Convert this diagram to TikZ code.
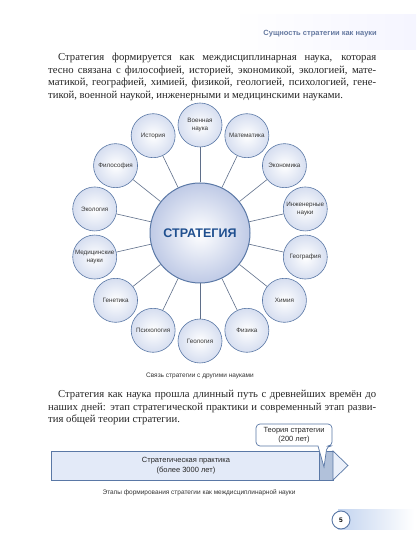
\documentclass[tikz,border=0pt]{standalone}
\usepackage{fontspec}
\setmainfont{Liberation Serif}
\newfontfamily\labelfont{Liberation Sans}
\usetikzlibrary{calc}
\definecolor{rimblue}{HTML}{5A78A6}
\definecolor{spokegray}{HTML}{5F6F8A}
\definecolor{scifill}{HTML}{D6DEF0}
\definecolor{bigfill}{HTML}{BFCAE6}
\definecolor{titleblue}{HTML}{1F4F8F}
\definecolor{headblue}{HTML}{6478A0}
\definecolor{barfill}{HTML}{E3EAF8}
\definecolor{darkseg}{HTML}{B1C1DA}
\definecolor{bandblue}{HTML}{C3D4EF}
\def\bodysize{\fontsize{10.7}{12.5}\selectfont}
\tikzset{
	science/.style={circle, draw=rimblue, line width=0.6pt, inner color=white, outer color=scifill,
		minimum size=44pt, inner sep=0pt, align=center, text=black!80,
		font=\labelfont\fontsize{6.3}{7.4}\selectfont},
	strategy/.style={circle, draw=rimblue, line width=1pt, inner color=white, outer color=bigfill,
		minimum size=100pt, inner sep=0pt, text=titleblue, font=\labelfont\bfseries\fontsize{12.5}{14}\selectfont},
	spoke/.style={draw=spokegray, line width=0.6pt},
	bodytext/.style={text width=328pt, inner sep=0pt, align=justify, text=black!85, font=\bodysize},
	caption/.style={inner sep=0pt, text=black!80, font=\labelfont\fontsize{6.5}{7.5}\selectfont},
	stagetext/.style={inner sep=0pt, align=center, text=black!85, font=\labelfont\fontsize{7.5}{9.5}\selectfont},
	stage/.style={draw=rimblue, line width=0.7pt}
}

\begin{document}
\begin{tikzpicture}[x=1pt,y=1pt]
		%%%%% START %%%%%
		\useasboundingbox (0,0) rectangle (416,556);
		\fill[white] (0,0) rectangle (416,556);
		
		% header
		\shade[left color=white, right color=blue!4] (230,506) rectangle (416,541);
		\node[anchor=base east, inner sep=0pt, text=headblue, font=\labelfont\bfseries\fontsize{7.5}{9}\selectfont] (head) at (377,520) {Сущность стратегии как науки};
		
		\node[bodytext, anchor=north west] (intro) at (48,503) {\hspace*{10pt}Стратегия формируется как междисциплинарная наука, которая\linebreak
			тесно связана с философией, историей, экономикой, экологией, мате-\linebreak
			матикой, географией, химией, физикой, геологией, психологией, гене-\linebreak
			тикой, военной наукой, инженерными и медицинскими науками.};
		
		% sciences round the centre
		\coordinate (c) at (200,323);
		\node[strategy] (strat) at (c) {СТРАТЕГИЯ};
		
		\node[science] (mil) at ($(c)+(90:108)$) {Военная\\наука};
		\node[science] (math) at ($(c)+(64.29:108)$) {Математика};
		\node[science] (econ) at ($(c)+(38.57:108)$) {Экономика};
		\node[science] (eng) at ($(c)+(12.86:108)$) {Инженерные\\науки};
		\node[science] (geo) at ($(c)+(-12.86:108)$) {География};
		\node[science] (chem) at ($(c)+(-38.57:108)$) {Химия};
		\node[science] (phys) at ($(c)+(-64.29:108)$) {Физика};
		\node[science] (geol) at ($(c)+(-90:108)$) {Геология};
		\node[science] (psy) at ($(c)+(-115.71:108)$) {Психология};
		\node[science] (gen) at ($(c)+(-141.43:108)$) {Генетика};
		\node[science] (med) at ($(c)+(-167.14:108)$) {Медицинские\\науки};
		\node[science] (ecol) at ($(c)+(167.14:108)$) {Экология};
		\node[science] (phil) at ($(c)+(141.43:108)$) {Философия};
		\node[science] (hist) at ($(c)+(115.71:108)$) {История};
		
		\draw[spoke] (strat) -- (mil);
		\draw[spoke] (strat) -- (math);
		\draw[spoke] (strat) -- (econ);
		\draw[spoke] (strat) -- (eng);
		\draw[spoke] (strat) -- (geo);
		\draw[spoke] (strat) -- (chem);
		\draw[spoke] (strat) -- (phys);
		\draw[spoke] (strat) -- (geol);
		\draw[spoke] (strat) -- (psy);
		\draw[spoke] (strat) -- (gen);
		\draw[spoke] (strat) -- (med);
		\draw[spoke] (strat) -- (ecol);
		\draw[spoke] (strat) -- (phil);
		\draw[spoke] (strat) -- (hist);
		
		\node[caption] (cap1) at (200,180) {Связь стратегии с другими науками};
		
		\node[bodytext, anchor=north west] (path) at (48,166) {\hspace*{10pt}Стратегия как наука прошла длинный путь с древнейших времён до\linebreak
			наших дней: этап стратегической практики и современный этап разви-\linebreak
			тия общей теории стратегии.};
		
		% stages bar
		\draw[stage, fill=barfill] (51,76) rectangle (319,105);
		\draw[stage, fill=darkseg] (319,76) rectangle (333,105);
		\draw[stage, fill=barfill!70!white] (333,105) -- (348,90.5) -- (333,76) -- cycle;
		\node[stagetext] (practice) at (186,90.5) {Стратегическая практика\\(более 3000 лет)};
		
		\draw[stage, fill=white, rounded corners=4] (318,110) -- (256,110) -- (256,132) -- (332,132) -- (332,110) -- (327,110) [sharp corners] -- (324,89) -- cycle;
		\node[stagetext] (theory) at (294,121) {Теория стратегии\\(200 лет)};
		
		\node[caption] (cap2) at (199,63) {Этапы формирования стратегии как междисциплинарной науки};
		
		% page number
		\shade[left color=bandblue, right color=white] (338,26) rectangle (414,46);
		\node[circle, draw=rimblue, line width=0.9pt, fill=white, minimum size=18pt, inner sep=0pt, font=\labelfont\bfseries\fontsize{6.5}{7}\selectfont] (page) at (341,36) {5};
		
		%%%%% END %%%%%
	\end{tikzpicture}
\end{document}
